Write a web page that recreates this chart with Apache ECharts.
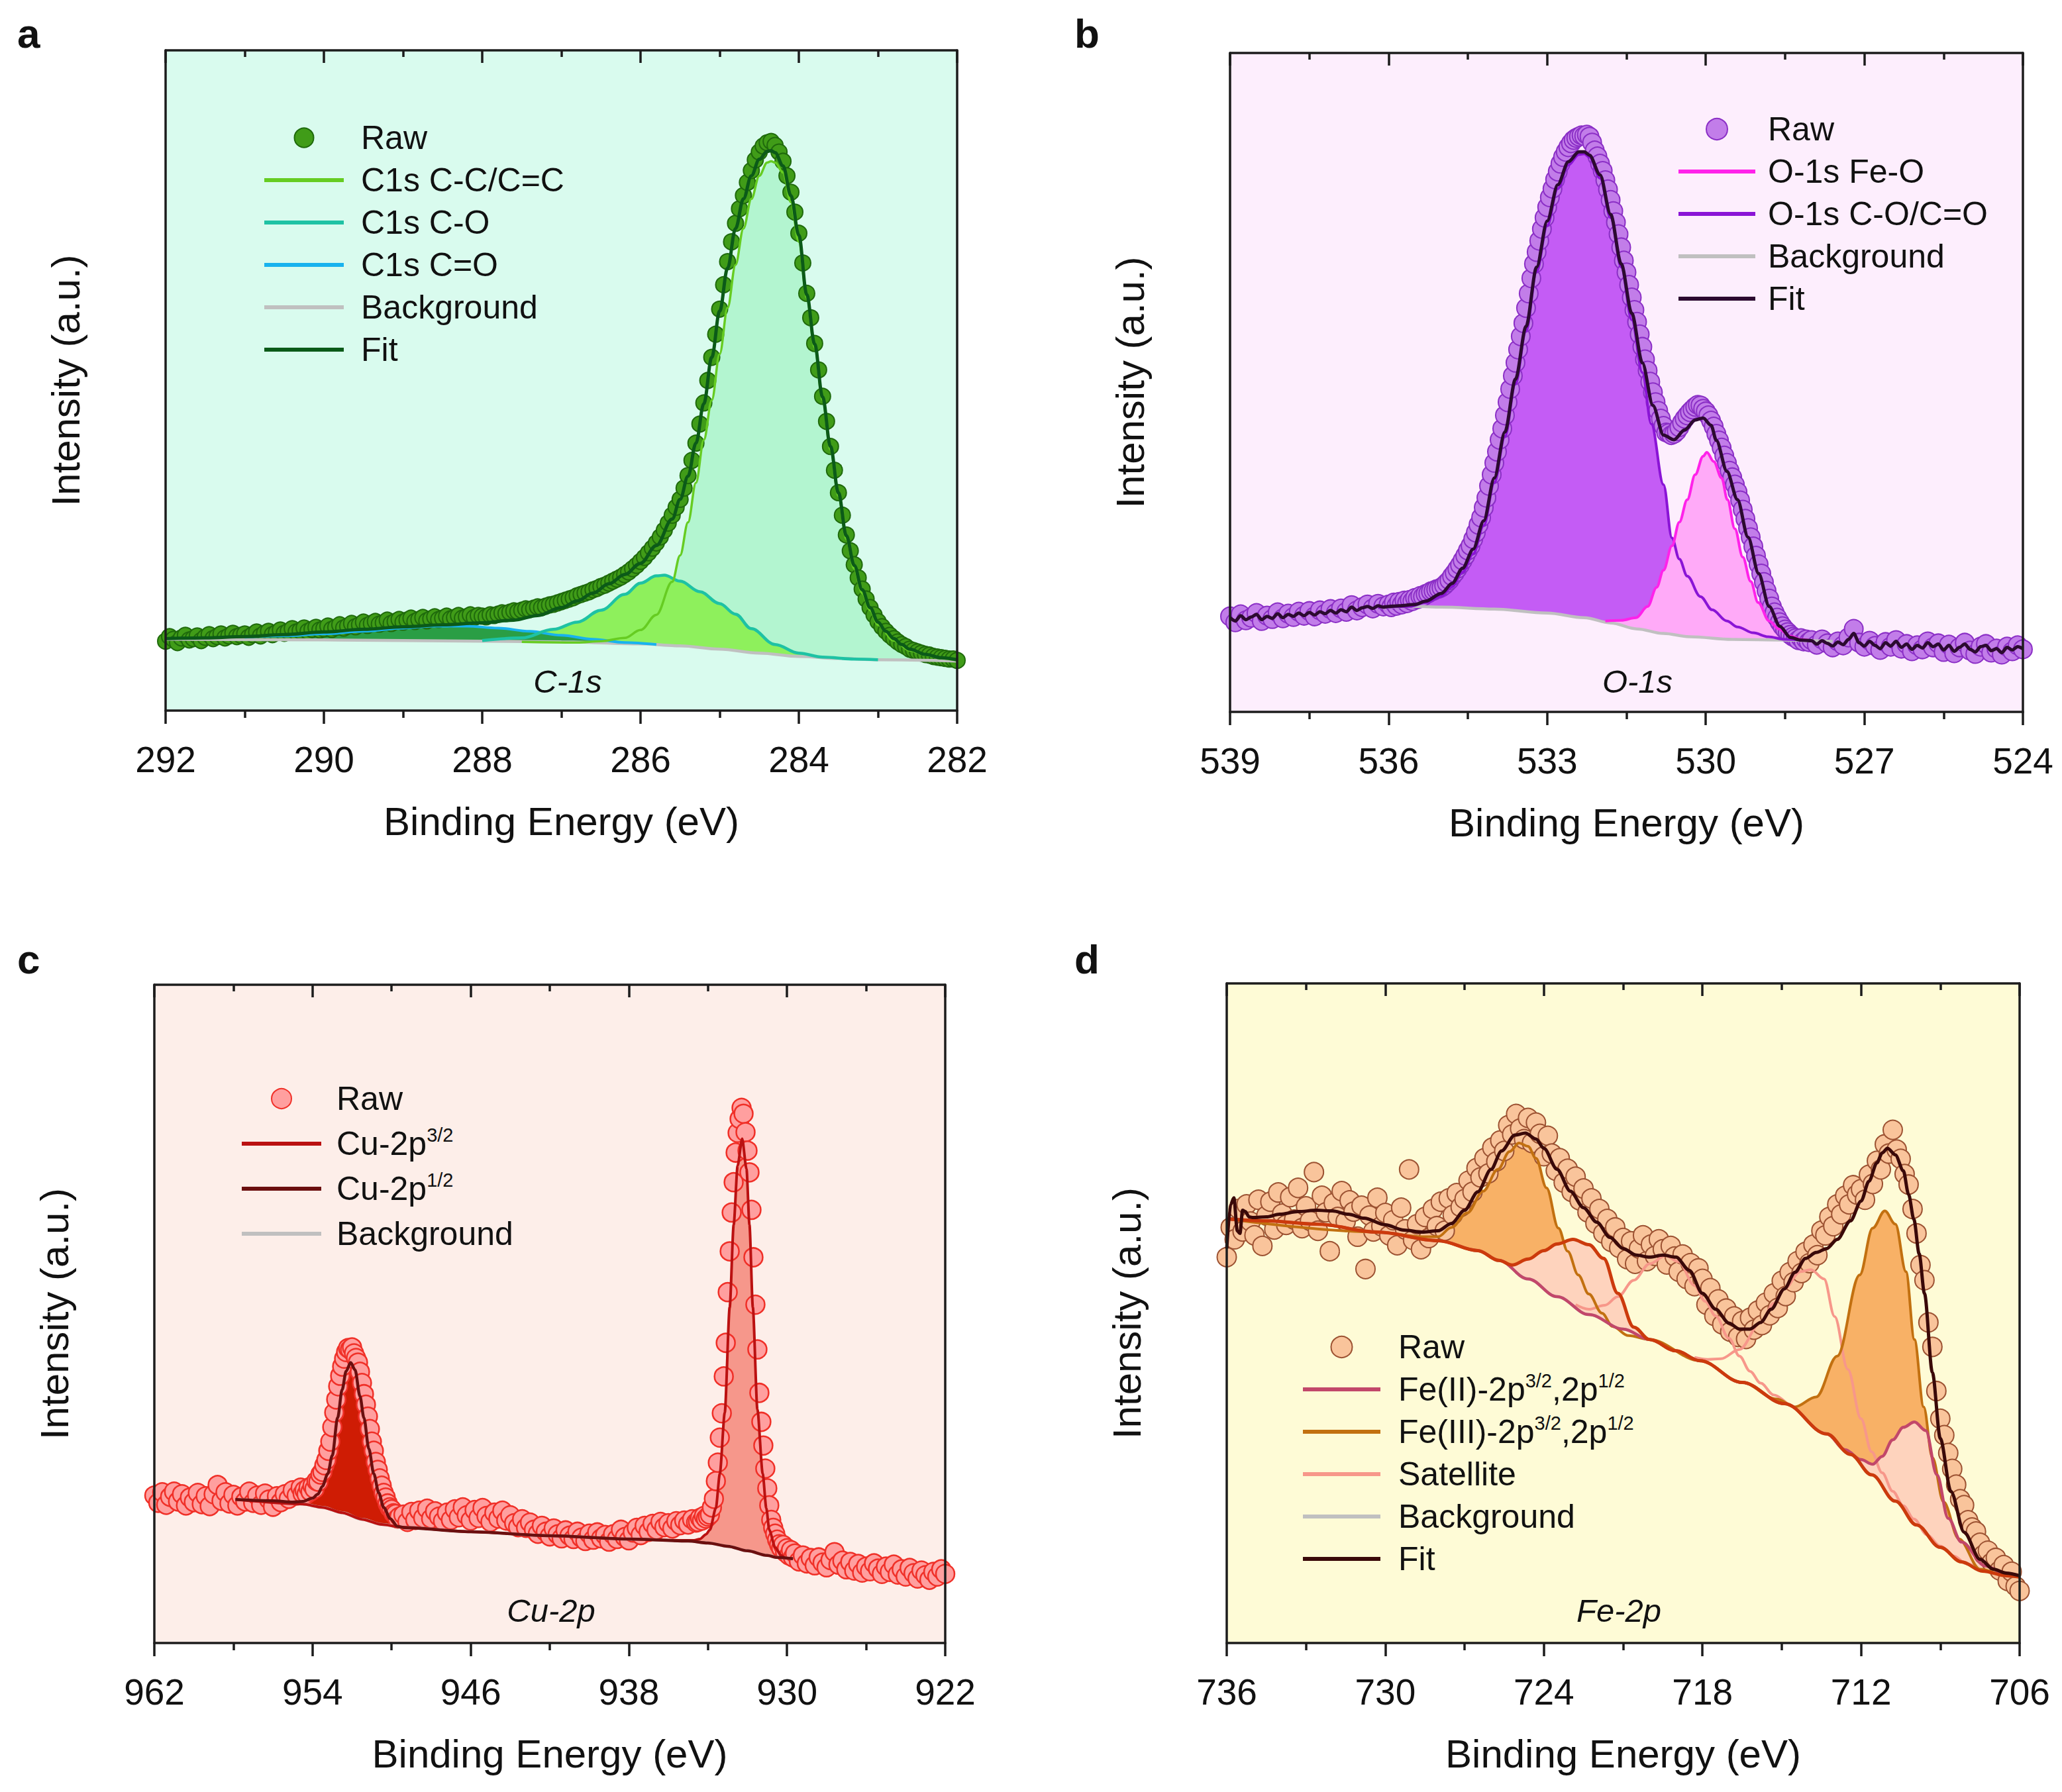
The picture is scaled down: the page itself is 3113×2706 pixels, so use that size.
<!DOCTYPE html>
<html><head><meta charset="utf-8">
<script src="https://cdn.jsdelivr.net/npm/echarts@6/dist/echarts.min.js"></script>
<style>html,body{margin:0;padding:0;background:#ffffff}#c{width:3113px;height:2706px}</style>
</head><body><div id="c"></div>
<script>
// ---------------- Panel a : C-1s ----------------
const aRawStart = 292, aRawStep = 0.05;
const aRaw = [
10.5,11.2,10.8,10.3,11.0,11.4,10.7,10.9,11.3,10.6,11.1,11.5,10.9,11.2,11.6,11.0,11.3,11.7,11.2,11.4,
11.6,11.1,11.5,11.9,11.3,11.7,12.0,11.5,11.8,12.2,11.7,12.0,12.4,11.9,12.1,12.5,12.0,12.3,12.6,12.2,
12.4,12.8,12.3,12.6,13.0,12.5,12.8,13.2,12.7,13.0,13.4,12.9,13.2,13.5,13.1,13.3,13.7,13.2,13.5,13.8,
13.4,13.7,14.0,13.5,13.8,14.1,13.6,13.9,14.2,13.8,14.0,14.3,13.9,14.1,14.4,14.0,14.2,14.5,14.1,14.4,
14.3,14.2,14.5,14.4,14.6,14.8,14.7,14.9,15.1,15.0,15.2,15.4,15.3,15.5,15.7,15.6,15.8,16.0,16.1,16.3,
16.5,16.7,16.9,17.1,17.4,17.6,17.8,18.0,18.3,18.5,18.8,19.0,19.3,19.6,19.9,20.2,20.6,21.0,21.5,22.0,
22.6,23.2,23.9,24.6,25.4,26.3,27.3,28.4,29.6,30.8,32.0,33.7,35.6,37.9,40.5,43.4,46.6,50.0,53.5,57.0,
60.8,64.5,68.0,71.0,73.8,76.0,78.0,80.0,81.8,83.4,84.6,85.5,86.0,86.2,85.6,84.6,83.2,81.0,78.5,75.5,
72.3,67.8,63.2,59.5,55.6,51.6,47.6,43.8,40.0,36.4,33.0,29.6,26.6,24.2,22.1,20.1,18.4,16.9,15.6,14.5,
13.5,12.7,12.0,11.4,10.9,10.4,10.0,9.7,9.3,9.1,8.9,8.7,8.5,8.4,8.2,8.1,8.0,7.9,7.8,7.8,
7.6];
const aFit = [[292.0,10.9],[291.5,11.0],[291.0,11.2],[290.5,11.5],[290.0,11.9],[289.5,12.3],[289.0,12.7],[288.5,13.0],[288.0,13.3],[287.6,13.7],[287.3,14.4],[287.0,15.6],[286.8,16.6],[286.6,17.8],[286.4,19.2],[286.2,20.6],[286.0,22.3],[285.8,25.0],[285.6,29.0],[285.5,32.0],[285.4,35.5],[285.3,40.5],[285.2,46.5],[285.1,53.5],[285.0,60.5],[284.9,67.0],[284.8,73.0],[284.7,77.5],[284.6,81.0],[284.5,83.5],[284.4,84.7],[284.35,84.8],[284.3,84.5],[284.2,82.5],[284.1,78.0],[284.0,72.0],[283.9,63.0],[283.8,55.5],[283.7,47.5],[283.6,40.0],[283.5,33.0],[283.4,26.5],[283.3,22.0],[283.2,18.3],[283.1,15.6],[283.0,13.4],[282.9,12.0],[282.8,10.9],[282.7,10.0],[282.6,9.3],[282.4,8.5],[282.2,8.0],[282.0,7.7]];
const aCC = [[287.5,10.4],[286.8,10.3],[286.5,10.5],[286.2,11.0],[286.0,12.2],[285.8,14.5],[285.6,19.5],[285.5,23.5],[285.4,28.5],[285.3,34.5],[285.2,41.0],[285.1,47.0],[285.0,54.0],[284.9,61.0],[284.8,67.5],[284.7,73.0],[284.6,77.5],[284.5,81.0],[284.4,83.0],[284.35,83.2],[284.3,83.0],[284.2,81.5],[284.1,77.0],[284.0,71.0],[283.9,62.5],[283.8,55.0],[283.7,47.0],[283.6,39.5],[283.5,32.5],[283.4,26.0],[283.3,21.5],[283.2,17.8],[283.1,15.2],[283.0,13.0],[282.8,10.6],[282.6,9.1],[282.4,8.4],[282.2,7.9],[282.0,7.6]];
const aCO = [[288.0,10.6],[287.5,11.0],[287.1,12.3],[286.8,13.4],[286.5,15.2],[286.2,17.6],[286.0,19.3],[285.8,20.4],[285.7,20.5],[285.5,19.6],[285.25,18.0],[285.0,16.2],[284.8,14.6],[284.6,12.4],[284.3,10.0],[284.0,8.7],[283.7,8.1],[283.3,7.8],[283.0,7.7]];
const aCdO = [[291.0,11.1],[290.5,11.3],[290.0,11.6],[289.5,12.0],[289.0,12.5],[288.6,12.8],[288.2,12.8],[287.8,12.5],[287.4,12.0],[287.0,11.4],[286.6,10.8],[286.2,10.3],[285.8,10.0]];
const aBg = [[292.0,10.8],[290.0,10.7],[288.0,10.5],[287.0,10.4],[286.0,10.1],[285.5,9.8],[285.0,9.3],[284.5,8.7],[284.0,8.2],[283.5,7.9],[283.0,7.7],[282.0,7.5]];

// ---------------- Panel b : O-1s ----------------
const bRawLStart = 539.0, bRawLStep = 0.1;
const bRawL = [14.5,13.6,14.8,13.9,14.3,15.0,13.8,14.6,14.1,15.1,14.2,14.9,14.4,15.2,14.6,15.3,14.5,15.4,14.9,15.6,15.0,15.7,15.2,16.2,15.4,15.9,16.3,15.7,16.4,16.0];
const bRawMStart = 536.0, bRawMStep = 0.05;
const bRawM = [
16.3,15.9,16.6,16.1,16.7,16.3,16.9,16.5,17.0,16.8,17.3,17.1,17.6,17.5,17.9,18.0,18.3,18.4,18.6,18.7,
18.9,19.2,19.6,20.0,20.6,21.1,21.7,22.3,23.0,23.7,24.5,25.2,26.2,27.2,28.4,29.5,31.0,32.5,34.3,36.0,
37.8,39.5,41.3,43.0,45.0,47.0,49.0,51.0,53.0,55.0,57.0,59.0,61.3,63.5,65.8,68.0,69.8,71.5,73.3,75.0,
76.6,78.1,79.4,80.8,82.0,83.2,84.2,85.0,85.7,86.3,86.8,87.1,87.3,87.5,87.4,87.6,87.3,86.4,85.2,
84.3,83.2,82.1,80.7,79.3,77.7,76.0,74.3,72.5,70.5,
68.5,66.7,64.8,62.9,61.0,59.2,57.3,55.4,53.5,51.8,
50.1,48.5,47.0,45.7,44.5,43.4,42.4,42.3,42.0,42.2,
42.6,43.2,43.9,44.5,45.0,45.5,45.9,46.3,46.6,46.5,
46.0,45.6,45.0,44.2,43.3,42.2,41.2,40.1,38.9,37.8,
36.6,35.6,34.5,33.4,32.1,30.7,29.3,27.9,26.5,25.1,
23.7,22.4,21.0,19.7,18.4,17.2,16.0,15.1,14.3,13.6,
13.0,12.5,12.1,11.7,11.4,11.2,10.9,11.2,10.7,11.0,
10.6];
const bRawRStart = 528.0, bRawRStep = 0.1;
const bRawR = [10.9,10.2,11.0,10.4,9.8,10.7,10.1,11.3,12.6,10.5,9.9,10.8,10.0,9.4,10.6,9.9,10.9,9.6,10.3,9.2,10.1,9.5,10.7,9.8,10.4,9.1,10.2,8.9,9.8,10.5,9.3,8.8,9.9,10.3,9.0,9.6,8.7,9.9,9.2,10.1,9.5];
const bFit = [[539.0,14.3],[538.9,13.8],[538.8,14.6],[538.7,14.0],[538.6,14.4],[538.5,14.8],[538.4,14.0],[538.3,14.5],[538.2,14.2],[538.1,14.9],[538.0,14.3],[537.9,14.8],[537.8,14.5],[537.7,15.0],[537.6,14.6],[537.5,15.1],[537.4,14.7],[537.3,15.2],[537.2,14.9],[537.1,15.4],[537.0,15.0],[536.9,15.5],[536.8,15.2],[536.7,15.9],[536.6,15.4],[536.5,15.8],[536.4,16.0],[536.3,15.7],[536.2,16.1],[536.1,15.9],[536.0,16.0],[535.8,16.1],[535.5,16.3],[535.3,16.8],[535.0,18.0],[534.8,19.5],[534.6,21.8],[534.4,24.7],[534.2,29.0],[534.0,35.5],[533.8,42.5],[533.6,50.5],[533.4,58.5],[533.2,67.5],[533.0,74.5],[532.8,80.0],[532.6,83.5],[532.4,85.0],[532.3,85.0],[532.2,84.5],[532.0,81.5],[531.8,75.5],[531.6,68.0],[531.4,60.5],[531.2,53.0],[531.0,46.5],[530.8,42.0],[530.6,41.3],[530.4,42.8],[530.2,44.3],[530.05,44.6],[529.9,43.5],[529.8,41.2],[529.6,36.5],[529.4,32.2],[529.2,26.5],[529.0,21.0],[528.8,16.0],[528.6,13.0],[528.4,11.3],[528.2,10.9],[528.0,10.8],[527.9,10.3],[527.8,10.8],[527.7,10.4],[527.6,10.0],[527.5,10.6],[527.4,10.2],[527.3,11.0],[527.2,11.9],[527.1,10.5],[527.0,10.0],[526.9,10.7],[526.8,10.1],[526.7,9.6],[526.6,10.5],[526.5,10.0],[526.4,10.7],[526.3,9.8],[526.2,10.3],[526.1,9.5],[526.0,10.1],[525.9,9.7],[525.8,10.5],[525.7,9.9],[525.6,10.3],[525.5,9.4],[525.4,10.1],[525.3,9.2],[525.2,9.8],[525.1,10.3],[525.0,9.5],[524.9,9.1],[524.8,9.9],[524.7,10.1],[524.6,9.3],[524.5,9.6],[524.4,9.0],[524.3,9.8],[524.2,9.4],[524.1,9.9],[524.0,9.6]];
const bFeO = [[531.9,13.8],[531.6,13.9],[531.32,14.3],[531.1,16.0],[530.93,18.9],[530.8,21.5],[530.64,25.2],[530.5,28.8],[530.35,32.2],[530.2,36.0],[530.05,38.8],[529.98,39.4],[529.85,38.0],[529.7,35.5],[529.59,32.2],[529.45,27.8],[529.3,23.5],[529.15,19.8],[529.01,16.6],[528.8,13.8],[528.62,12.6],[528.4,11.5],[528.2,11.0],[528.0,10.8]];
const bCO = [[536.2,15.8],[535.6,16.0],[535.3,16.6],[535.0,17.6],[534.8,19.0],[534.6,21.2],[534.4,24.0],[534.2,28.3],[534.0,34.8],[533.8,41.8],[533.6,49.8],[533.4,57.8],[533.2,66.8],[533.0,73.8],[532.8,79.4],[532.6,83.0],[532.4,84.6],[532.3,84.7],[532.2,84.2],[532.0,81.0],[531.8,75.0],[531.6,67.5],[531.4,59.5],[531.2,51.5],[531.03,43.7],[530.8,34.5],[530.64,26.4],[530.5,23.2],[530.35,20.6],[530.1,17.5],[529.88,15.5],[529.6,13.8],[529.4,12.9],[529.1,12.0],[528.82,11.4],[528.5,11.0],[528.2,10.9]];
const bBg = [[536.2,15.8],[535.5,16.0],[535.0,15.9],[534.0,15.6],[533.0,15.0],[532.3,14.3],[531.8,13.5],[531.3,12.6],[530.8,11.9],[530.3,11.4],[529.5,11.0],[528.5,10.9],[528.0,10.8],[527.6,10.7]];

// ---------------- Panel c : Cu-2p ----------------
const cRaw1Start = 962.0, cRaw1Step = 0.2;
const cRaw1 = [22.4,21.3,22.9,21.0,22.2,23.0,21.5,22.6,20.9,22.1,21.4,22.8,21.1,22.3,20.8,22.6,24.0,21.6,22.9,21.2,22.5,20.9,22.2,21.5,23.0,21.3,22.4,21.0,22.7,21.8,20.7,22.3,21.4,22.6,21.9,23.2,22.4,23.6];
const cRaw2Start = 954.5, cRaw2Step = 0.1;
const cRaw2 = [22.7,23.2,22.6,23.6,23.0,23.9,23.4,24.6,24.5,25.6,26.0,27.0,27.8,29.2,30.6,32.8,35.0,37.0,39.0,40.6,42.0,43.2,44.2,44.8,44.6,44.9,44.0,43.3,42.6,41.2,39.5,37.8,36.2,34.4,32.5,30.6,29.2,27.5,26.3,25.0,23.9,22.8,22.1,21.2,20.6,20.3,19.7,19.6,18.9,19.2];
const cRaw3Start = 949.4, cRaw3Step = 0.2;
const cRaw3 = [19.5,18.4,19.9,18.7,20.1,19.0,20.4,18.9,20.0,19.2,18.5,19.8,18.7,20.3,19.1,20.6,19.4,18.6,20.2,19.0,20.5,19.3,18.4,19.8,18.9,20.1,18.6,19.4,18.2,17.6,18.8,17.5,18.3,17.2,16.6,17.8,16.9,16.2,17.4,16.5,15.9,17.1,16.3,15.8,16.9,16.0,15.5,16.6,15.7,16.8,15.9,16.4,15.4,16.5,15.8,17.2,16.1,15.6,16.8,17.5,16.4,17.8,16.9,18.1,17.2,18.4,17.6,18.2,17.4,18.5,17.9,18.6,18.0,18.8,18.3];
const cRaw4Start = 934.5, cRaw4Step = 0.1;
const cRaw4 = [18.4,19.0,18.6,19.3,18.9,19.2,19.5,20.6,21.9,24.6,27.4,31.2,34.9,40.5,45.6,53.3,59.5,65.4,70.0,74.5,77.5,79.6,81.3,80.4,77.6,74.8,71.5,65.8,58.6,51.4,44.6,38.0,33.6,30.0,26.5,23.5,20.9,18.7,17.5,16.6,15.7,15.0,14.4,14.9,13.8,14.4,13.3,14.1,13.0,13.6];
const cRaw5Start = 929.4, cRaw5Step = 0.2;
const cRaw5 = [12.4,13.3,12.1,12.9,11.8,13.0,12.2,11.5,12.6,13.8,11.9,12.5,11.2,12.3,11.0,12.0,10.7,11.6,10.9,12.1,11.3,10.5,11.6,10.8,11.9,10.4,11.2,10.1,11.4,10.6,9.8,11.0,10.3,9.6,10.8,10.1,11.2,10.5];
const c21 = [[957.9,21.8],[956.0,21.6],[955.0,21.4],[954.5,21.5],[954.0,22.0],[953.73,22.6],[953.5,23.8],[953.23,25.7],[953.0,28.5],[952.73,34.2],[952.5,38.5],[952.3,41.3],[952.07,42.6],[951.85,41.5],[951.6,37.5],[951.4,34.2],[951.15,29.5],[950.9,25.7],[950.65,22.8],[950.4,20.6],[950.07,18.9],[949.7,17.7],[949.3,17.5],[946.0,16.9],[942.0,16.3],[938.0,15.8],[935.0,15.5],[934.0,15.2],[933.0,14.7],[932.0,14.0],[931.0,13.3],[930.5,13.0],[929.7,12.8]];
const c23 = [[957.9,21.8],[954.5,21.1],[953.5,20.6],[952.5,19.8],[951.5,18.8],[950.5,18.0],[949.5,17.6],[946.0,16.9],[942.0,16.3],[938.0,15.8],[935.5,15.6],[934.7,15.6],[934.4,15.8],[934.1,16.5],[933.9,17.2],[933.6,20.5],[933.4,25.7],[933.15,35.0],[932.9,51.0],[932.7,63.5],[932.5,72.5],[932.27,76.6],[932.05,72.0],[931.9,63.5],[931.73,51.0],[931.5,35.5],[931.23,25.7],[931.05,20.5],[930.9,17.2],[930.6,14.5],[930.3,13.3],[930.07,12.9],[929.7,12.8]];
const cBg = [[957.9,21.8],[956.0,21.6],[954.5,21.1],[953.5,20.6],[952.5,19.8],[951.5,18.8],[950.5,18.0],[949.5,17.6],[946.0,16.9],[942.0,16.3],[938.0,15.8],[935.0,15.5],[934.0,15.2],[933.0,14.7],[932.0,14.0],[931.0,13.3],[930.5,13.0],[929.7,12.8]];

// ---------------- Panel d : Fe-2p ----------------
const dRawStart = 736.0, dRawStep = 0.15;
const dRaw = [
58.5,63.0,61.2,65.8,62.4,66.5,63.9,61.8,67.2,60.2,
64.8,66.9,62.7,68.3,65.1,63.4,67.6,64.2,69.0,62.9,
66.2,64.0,71.4,62.5,67.8,65.3,59.4,66.7,64.6,68.5,
63.9,67.1,65.4,61.6,66.3,56.7,64.8,62.4,67.5,63.2,
65.2,61.8,64.1,60.3,66.0,62.7,71.8,61.1,63.5,59.7,
64.6,61.4,65.8,63.2,66.9,62.5,67.4,64.9,68.2,66.1,
67.3,70.1,68.4,72.0,70.6,73.5,71.2,75.1,73.0,76.2,
74.6,78.5,77.1,80.2,78.0,76.4,79.6,75.8,78.9,77.2,
73.8,76.9,74.2,71.6,73.5,69.8,71.9,68.4,70.7,67.1,
68.9,65.3,67.4,63.6,65.8,62.1,64.3,60.8,63.0,59.9,
61.4,58.2,60.9,57.5,59.8,61.8,57.9,60.4,58.7,61.2,
59.7,57.4,60.2,58.6,56.3,58.9,55.2,57.6,54.1,56.8,
55.2,51.3,53.8,49.6,52.1,48.3,50.7,47.2,49.5,46.4,
48.8,46.1,49.3,47.5,50.4,48.2,51.6,49.7,53.0,50.8,
54.9,52.6,56.2,54.7,57.9,56.1,59.3,57.6,60.4,58.8,
62.5,61.8,64.6,63.2,66.5,65.0,67.8,66.5,69.4,68.0,
68.8,67.2,71.0,69.6,73.1,71.8,75.6,74.2,77.8,74.8,
73.4,71.1,69.5,65.8,62.1,57.3,55.0,48.6,44.9,38.2,
34.0,31.5,28.8,26.4,24.0,21.8,20.9,18.6,17.5,16.9,
15.2,13.4,14.0,12.2,12.9,11.0,11.8,9.4,10.8,8.6,
7.9];
const dFit = [[736.0,59.8],[735.85,66.5],[735.73,67.5],[735.6,62.5],[735.5,62.1],[735.4,65.6],[735.3,65.4],[735.15,64.6],[735.0,64.5],[734.5,64.6],[734.0,65.0],[733.3,65.4],[732.6,65.6],[732.0,65.5],[731.4,65.0],[730.8,64.4],[730.0,63.4],[729.3,62.6],[728.6,62.3],[728.0,62.5],[727.5,63.6],[727.0,65.6],[726.5,68.4],[726.0,71.8],[725.6,74.6],[725.1,77.0],[724.7,77.3],[724.3,76.4],[724.0,75.0],[723.5,71.8],[723.0,68.5],[722.5,66.0],[722.0,63.8],[721.5,61.5],[721.0,59.8],[720.5,58.8],[720.0,58.5],[719.5,58.8],[719.0,58.5],[718.5,56.5],[718.0,53.0],[717.5,50.6],[717.0,48.5],[716.6,47.6],[716.2,47.6],[715.8,48.6],[715.4,50.6],[714.9,53.7],[714.5,56.2],[714.1,58.3],[713.7,59.2],[713.3,59.8],[712.9,61.2],[712.4,64.0],[712.0,67.0],[711.7,70.0],[711.4,72.8],[711.2,74.3],[711.0,75.0],[710.7,74.0],[710.4,71.6],[710.2,68.0],[710.0,64.2],[709.8,59.0],[709.6,53.0],[709.3,41.0],[709.0,31.0],[708.6,23.0],[708.1,16.8],[707.5,12.7],[707.0,11.2],[706.5,10.6],[706.0,10.2]];
const dBg = [[736.0,64.3],[734.5,64.0],[732.6,63.5],[730.3,62.3],[728.0,61.0],[726.5,59.5],[725.7,58.0],[724.6,55.2],[723.5,52.5],[722.3,49.8],[721.0,47.6],[720.0,46.0],[719.0,44.3],[718.1,42.8],[716.5,39.5],[714.9,36.3],[713.3,31.7],[712.4,28.6],[711.6,25.5],[710.7,21.5],[709.9,17.9],[709.0,14.5],[708.2,12.3],[707.4,10.9],[706.5,10.2],[706.0,10.0]];
const dFe2a = [[736.0,64.3],[734.5,64.0],[732.6,63.5],[730.3,62.3],[728.0,61.0],[726.5,59.5],[725.7,58.0],[724.6,55.2],[723.5,52.5],[722.3,49.8],[721.0,47.6],[720.0,46.0],[719.0,44.3],[718.1,42.8],[716.5,39.5],[714.9,36.3],[713.3,31.7],[712.6,29.3],[712.0,27.8],[711.56,27.1],[711.2,28.3],[710.8,30.8],[710.4,32.7],[709.98,33.5],[709.55,32.2],[709.13,25.5],[708.7,18.9],[708.2,15.3],[707.3,11.7],[706.5,10.4],[706.0,10.0]];
const dFe2b = [[736.0,64.3],[734.5,64.0],[732.6,63.5],[730.3,62.3],[728.0,61.0],[726.5,59.5],[725.7,58.0],[725.2,57.3],[724.6,58.2],[724.0,59.5],[723.5,60.5],[722.9,61.2],[722.3,60.4],[721.74,58.3],[721.2,53.0],[720.6,47.9],[720.0,46.0],[719.0,44.3],[718.1,42.8],[716.5,39.5],[714.9,36.3],[713.3,31.7],[712.4,28.6],[711.6,25.5],[710.7,21.5],[709.9,17.9],[709.0,14.5],[708.2,12.3],[707.4,10.9],[706.5,10.2],[706.0,10.0]];
const dFe3 = [[736.0,64.3],[730.3,62.3],[728.6,61.6],[728.0,61.6],[727.5,63.0],[726.9,65.2],[726.3,68.5],[725.74,71.8],[725.3,74.5],[724.94,75.8],[724.6,75.3],[724.3,73.5],[723.9,69.0],[723.45,62.9],[723.1,59.4],[722.7,55.8],[722.3,52.9],[721.8,50.0],[721.4,48.0],[720.8,46.6],[720.0,46.0],[718.1,42.8],[716.5,39.5],[715.2,37.0],[714.5,35.8],[713.7,37.3],[712.9,43.5],[712.05,55.8],[711.56,62.9],[711.1,65.5],[710.7,63.5],[710.3,56.3],[709.98,46.0],[709.63,35.8],[709.3,28.1],[708.88,21.4],[708.3,15.8],[707.5,11.2],[706.5,10.2],[706.0,10.0]];
const dSat1 = [[722.8,51.3],[722.3,50.6],[721.7,51.2],[721.2,52.5],[720.6,55.0],[720.0,57.5],[719.4,58.7],[718.9,57.8],[718.3,54.2],[717.9,51.8],[717.5,49.6],[717.0,46.2],[716.6,43.5],[716.2,41.2],[715.8,39.4],[715.3,37.6],[714.8,36.3]];
const dSat2 = [[718.3,43.3],[717.8,43.0],[717.3,43.1],[716.6,44.5],[715.8,48.6],[715.3,51.5],[714.9,53.7],[714.3,56.3],[713.9,56.6],[713.4,55.2],[713.0,49.5],[712.5,41.5],[712.0,34.0],[711.6,29.0],[711.2,25.8],[710.8,23.0],[710.4,20.8],[710.0,18.8],[709.5,16.4],[709.0,14.7],[708.5,13.2],[708.0,12.0],[707.5,11.1]];

// tick ranges
const xTicksA = {min:282, max:292, interval:2};
const xTicksB = {min:524, max:539, interval:3};
const xTicksC = {min:922, max:962, interval:8};
const xTicksD = {min:706, max:736, interval:6};

// ------------- helpers -------------
function sampled(start, step, vals){ return vals.map((v,i)=>[Math.round((start - i*step)*100)/100, v]); }
// background-coloured cover under each baseline, widened to the axis ends
function maskOf(bg, t){ return [[t.max, bg[0][1]]].concat(bg, [[t.min, bg[bg.length-1][1]]]); }
const FONT = '"Liberation Sans", Arial, Helvetica, sans-serif';
const INK = '#1c1c1c';

const aRawPts = sampled(aRawStart, aRawStep, aRaw);
const bRawPts = sampled(bRawLStart,bRawLStep,bRawL).concat(sampled(bRawMStart,bRawMStep,bRawM), sampled(bRawRStart,bRawRStep,bRawR));
const cRawPts = sampled(cRaw1Start,cRaw1Step,cRaw1).concat(sampled(cRaw2Start,cRaw2Step,cRaw2), sampled(cRaw3Start,cRaw3Step,cRaw3), sampled(cRaw4Start,cRaw4Step,cRaw4), sampled(cRaw5Start,cRaw5Step,cRaw5));
const dRawPts = sampled(dRawStart, dRawStep, dRaw);

const PANELS = [
  {g:[250,76,1195,997], bg:'#d9fbee', ticks:xTicksA},
  {g:[1857,80,1197,995], bg:'#fdeefd', ticks:xTicksB},
  {g:[233,1487,1194,994], bg:'#fdeee9', ticks:xTicksC},
  {g:[1852,1485,1197,996], bg:'#fefbd6', ticks:xTicksD}
];

const grids=[], xAxes=[], yAxes=[], series=[];
PANELS.forEach((p,i)=>{
  grids.push({left:p.g[0], top:p.g[1], width:p.g[2], height:p.g[3], show:true, backgroundColor:p.bg, borderWidth:0, containLabel:false, outerBoundsMode:'none'});
  xAxes[i] = {type:'value', gridIndex:i, position:'bottom', inverse:true, min:p.ticks.min, max:p.ticks.max, interval:p.ticks.interval, z:10,
    axisLine:{show:true, onZero:false, lineStyle:{color:INK, width:3.5}},
    axisTick:{show:true, inside:false, length:20, lineStyle:{color:INK, width:3.5}},
    minorTick:{show:true, splitNumber:2, length:11, lineStyle:{color:INK, width:3.5}},
    axisLabel:{show:true, margin:46, fontSize:55, color:'#111', fontFamily:FONT, showMinLabel:true, showMaxLabel:true},
    splitLine:{show:false}, minorSplitLine:{show:false},
    name:'Binding Energy (eV)', nameLocation:'middle', nameGap:137, nameTextStyle:{fontSize:60, color:'#111', fontFamily:FONT}};
  xAxes[i+4] = {type:'value', gridIndex:i, position:'top', inverse:true, min:p.ticks.min, max:p.ticks.max, interval:p.ticks.interval, z:10,
    axisLine:{show:true, onZero:false, lineStyle:{color:INK, width:3.5}},
    axisTick:{show:true, inside:true, length:19, lineStyle:{color:INK, width:3.5}},
    minorTick:{show:true, splitNumber:2, length:10, lineStyle:{color:INK, width:3.5}},
    axisLabel:{show:false}, splitLine:{show:false}, minorSplitLine:{show:false}};
  yAxes[i] = {type:'value', gridIndex:i, position:'left', min:0, max:100, z:10,
    axisLine:{show:true, onZero:false, lineStyle:{color:INK, width:3.5}},
    axisTick:{show:false}, axisLabel:{show:false}, splitLine:{show:false},
    name:'Intensity (a.u.)', nameLocation:'middle', nameGap:121, nameTextStyle:{fontSize:60, color:'#111', fontFamily:FONT}};
  yAxes[i+4] = {type:'value', gridIndex:i, position:'right', min:0, max:100, z:10,
    axisLine:{show:true, onZero:false, lineStyle:{color:INK, width:3.5}},
    axisTick:{show:false}, axisLabel:{show:false}, splitLine:{show:false}};
});

function fill(i, data, color, z){
  series.push({type:'line', xAxisIndex:i, yAxisIndex:i, data, smooth:0.35, smoothMonotone:'x', symbol:'none', silent:true,
    lineStyle:{width:0, opacity:0}, areaStyle:{color, opacity:1}, z});
}
function curve(i, name, data, color, width, z, smooth){
  series.push({type:'line', name, xAxisIndex:i, yAxisIndex:i, data, smooth:(smooth===undefined?0.35:smooth), smoothMonotone:'x', symbol:'none', silent:true,
    itemStyle:{color}, lineStyle:{color, width}, z});
}
function raw(i, name, data, size, color, border, bw){
  series.push({type:'scatter', name, xAxisIndex:i, yAxisIndex:i, data, symbol:'circle', symbolSize:size, silent:true,
    itemStyle:{color, borderColor:border, borderWidth:bw, opacity:1}, z:3});
}

// panel a
fill(0, aCC, '#b3f5d0', 1);
fill(0, aCO, '#8ef05c', 1);
fill(0, aCdO, '#2a9e45', 1);
fill(0, maskOf(aBg, xTicksA), PANELS[0].bg, 2);
raw(0, 'a:Raw', aRawPts, 24, '#409c18', '#1f6a0c', 2);
curve(0, 'a:Background', aBg, '#c0c0c0', 4.5, 4);
curve(0, 'a:C1s C=O', aCdO, '#18b2ee', 4, 4);
curve(0, 'a:C1s C-O', aCO, '#1ec2a4', 4.5, 4);
curve(0, 'a:C1s C-C/C=C', aCC, '#66cc22', 3.5, 4);
curve(0, 'a:Fit', aFit, '#0b5a18', 5, 5);
// panel b
fill(1, bCO, '#c45cf5', 1);
fill(1, bFeO, '#ffaaf8', 1);
fill(1, maskOf(bBg, xTicksB), PANELS[1].bg, 2);
raw(1, 'b:Raw', bRawPts, 28, '#c27de9', '#8b2fc6', 2);
curve(1, 'b:Background', bBg, '#c0c0c0', 4.5, 4);
curve(1, 'b:O-1s C-O/C=O', bCO, '#8a14d6', 4, 4);
curve(1, 'b:O-1s Fe-O', bFeO, '#ff22ea', 4, 4);
curve(1, 'b:Fit', bFit, '#2c0a30', 5, 5, 0.3);
// panel c
fill(2, c23, '#f6978b', 1);
fill(2, c21, '#cf1c04', 1);
fill(2, maskOf(cBg, xTicksC), PANELS[2].bg, 2);
raw(2, 'c:Raw', cRawPts, 28, '#ff9f9f', '#f03028', 2.5);
curve(2, 'c:Background', cBg, '#c0c0c0', 4.5, 4);
curve(2, 'c:Cu-2p^3/2', c23, '#bb1111', 4, 4, 0.25);
curve(2, 'c:Cu-2p^1/2', c21, '#6b0f0f', 4.5, 4, 0.3);
// panel d
fill(3, dFe3, '#f8b166', 1);
fill(3, dFe2a, '#fed3bd', 1);
fill(3, dFe2b, '#fed3bd', 1);
fill(3, maskOf(dBg, xTicksD), PANELS[3].bg, 2);
raw(3, 'd:Raw', dRawPts, 29, '#f9c49b', '#9c5232', 2);
curve(3, 'd:Background', dBg, '#c0c0c0', 4.5, 4);
curve(3, 'd:Satellite', dSat1, '#f7978a', 4, 4);
curve(3, 'd:Satellite2', dSat2, '#f7978a', 4, 4);
curve(3, 'd:Fe(III)-2p^3/2,2p^1/2', dFe3, '#c27010', 4, 4);
curve(3, 'd:Fe(II)-2p^3/2,2p^1/2', dFe2a, '#c2476a', 4.5, 4);
curve(3, 'd:FeIIb', dFe2b, '#cc3a0c', 5, 4);
curve(3, 'd:Fit', dFit, '#3a0909', 5, 5, 0.3);

function legendFmt(name){
  const t = name.slice(2);
  return t.replace(/\^([0-9\/]+)/g, '{s|$1}');
}
const HIDE = {color:'rgba(0,0,0,0)', borderColor:'rgba(0,0,0,0)', borderWidth:0, opacity:0};
function legend(left, top, iw, ih, gap, pad, names){
  const data = names.map(n => n.slice(2) === 'Raw' ? {name:n} : {name:n, itemStyle:HIDE});
  return {left, top, orient:'vertical', padding:0, itemWidth:iw, itemHeight:ih, itemGap:gap, selectedMode:false,
    data, formatter:legendFmt, lineStyle:{width:6},
    textStyle:{fontSize:50, lineHeight:56, color:'#111', fontFamily:FONT, padding:[0,0,0,pad],
      rich:{s:{fontSize:29, lineHeight:30, verticalAlign:'top', fontFamily:FONT, color:'#111'}}}};
}
const legends = [
  legend(396, 180, 120, 29, 8, 21, ['a:Raw','a:C1s C-C/C=C','a:C1s C-O','a:C1s C=O','a:Background','a:Fit']),
  legend(2531, 167, 116, 32, 8, 14, ['b:Raw','b:O-1s Fe-O','b:O-1s C-O/C=O','b:Background','b:Fit']),
  legend(362, 1631, 120, 30, 12, 18, ['c:Raw','c:Cu-2p^3/2','c:Cu-2p^1/2','c:Background']),
  legend(1964, 2006, 117, 32, 8, 22, ['d:Raw','d:Fe(II)-2p^3/2,2p^1/2','d:Fe(III)-2p^3/2,2p^1/2','d:Satellite','d:Background','d:Fit'])
];

function txt(x, y, s, font, align){
  return {type:'text', x, y, z:50, silent:true, style:{text:s, font, fill:'#111', align:align||'left', verticalAlign:'middle'}};
}
const graphics = [
  txt(26, 50, 'a', 'bold 62px "Liberation Sans", Arial, sans-serif'),
  txt(1622, 50, 'b', 'bold 62px "Liberation Sans", Arial, sans-serif'),
  txt(26, 1448, 'c', 'bold 62px "Liberation Sans", Arial, sans-serif'),
  txt(1622, 1448, 'd', 'bold 62px "Liberation Sans", Arial, sans-serif'),
  txt(857, 1029, 'C-1s', 'italic 49px "Liberation Sans", Arial, sans-serif', 'center'),
  txt(2472, 1029, 'O-1s', 'italic 49px "Liberation Sans", Arial, sans-serif', 'center'),
  txt(832, 2432, 'Cu-2p', 'italic 49px "Liberation Sans", Arial, sans-serif', 'center'),
  txt(2444, 2432, 'Fe-2p', 'italic 49px "Liberation Sans", Arial, sans-serif', 'center')
];

const chart = echarts.init(document.getElementById('c'), null, {renderer:'svg', width:3113, height:2706});
chart.setOption({
  animation:false,
  backgroundColor:'#ffffff',
  textStyle:{fontFamily:FONT},
  grid:grids, xAxis:xAxes, yAxis:yAxes, legend:legends, series, graphic:graphics
});
</script>
</body></html>
